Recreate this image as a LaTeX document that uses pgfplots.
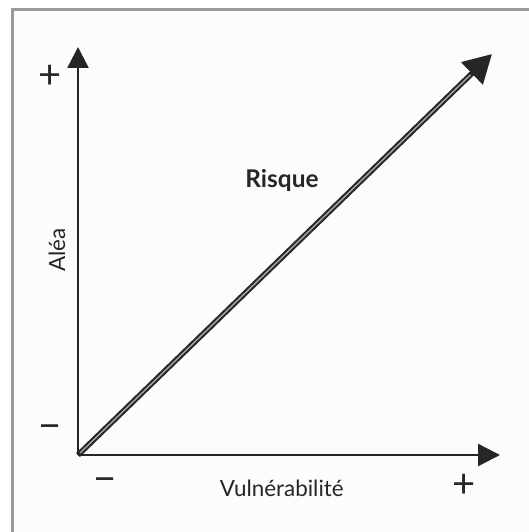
\documentclass[border=0pt]{standalone}
\usepackage{pgfplots}
\pgfplotsset{compat=1.18}
\usetikzlibrary{arrows.meta}
\usepackage{fontspec}
\setmainfont{Lato}
\definecolor{axisdark}{HTML}{262626}
\definecolor{framegray}{HTML}{9A9A9A}
\definecolor{bginside}{HTML}{FCFCFC}
\begin{document}
\begin{tikzpicture}[x=1bp,y=1bp]
\path[use as bounding box] (0,0) rectangle (529,532);
\draw[framegray, line width=3.5bp, fill=bginside] (12.5,-30) rectangle (570,522.5);
\begin{axis}[
  at={(78bp,77bp)}, anchor=south west,
  scale only axis, width=422bp, height=408bp,
  xmin=0, xmax=422, ymin=0, ymax=408,
  clip=false,
  axis lines=left,
  axis line style={axisdark, line width=2.4bp},
  x axis line style={-{Triangle[length=22bp,width=22bp]}},
  y axis line style={-{Triangle[length=21bp,width=21bp]}},
  xtick={27,386}, xticklabels={−,+},
  ytick={23,378}, yticklabels={−,+},
  major tick length=0pt,
  tick style={draw=none},
  tick label style={font=\fontsize{40}{40}\selectfont, text=axisdark, inner sep=0pt},
  xticklabel style={anchor=center, yshift=-30.5bp},
  yticklabel style={anchor=center, xshift=-28bp},
  xlabel={Vulnérabilité},
  ylabel={Aléa},
  xlabel style={at={(axis description cs:0.483,0)}, anchor=center, yshift=-33bp, font=\fontsize{22.5}{22.5}\selectfont, text=axisdark},
  ylabel style={at={(axis description cs:-0.0498,0.502)}, anchor=center, font=\fontsize{22.5}{22.5}\selectfont, text=axisdark},
]
\addplot[axisdark, line width=5.5bp, -{Triangle[length=28bp,width=30bp]}] coordinates {(0,0) (414,401)};
\addplot[black!35, line width=1.4bp, shorten >=30bp, shorten <=3bp] coordinates {(0,0) (414,401)};
\node[font=\bfseries\fontsize{24.5}{24.5}\selectfont, text=axisdark] at (axis cs:204,274) {Risque};
\end{axis}
\end{tikzpicture}
\end{document}
